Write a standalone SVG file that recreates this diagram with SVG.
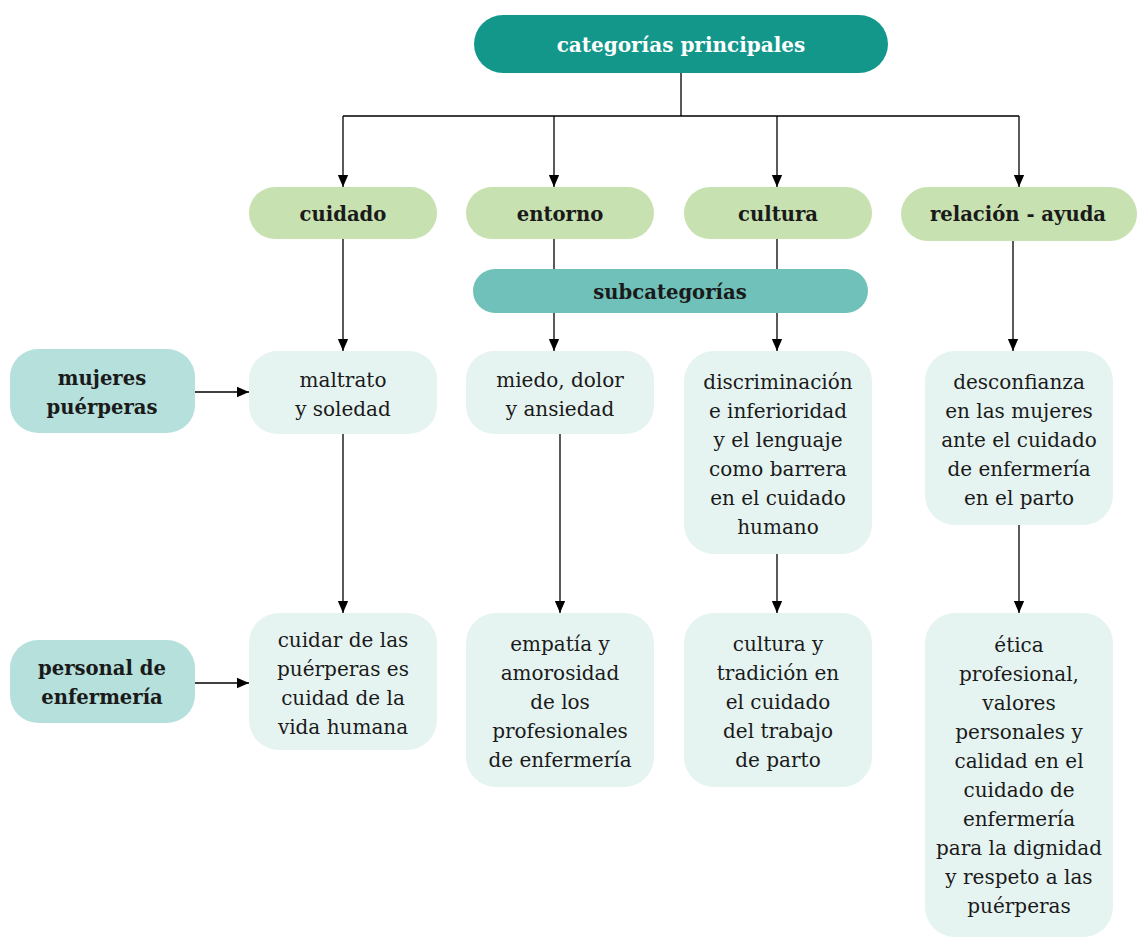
<svg xmlns="http://www.w3.org/2000/svg" width="1137" height="945" viewBox="0 0 1137 945">
<defs>
<marker id="ah" markerUnits="userSpaceOnUse" markerWidth="12" markerHeight="14" refX="14" refY="6" viewBox="0 0 14 12" orient="auto">
<path d="M0,0 L14,6 L0,12 z" fill="#000"/>
</marker>
<style>
.c{stroke:#000;stroke-width:1.3;fill:none}
.a{marker-end:url(#ah)}
text{font-family:"DejaVu Serif",serif;text-anchor:middle;fill:#1a1a1a}
.b{font-weight:bold;font-size:19.6px}
.t{font-size:20px}
.top{fill:#12978a}
.cat{fill:#c7e1b0}
.sub{fill:#6fc1b9}
.side{fill:#b5e0dc}
.leaf{fill:#e6f4f1}
</style>
</defs>
<rect width="1137" height="945" fill="#fff"/>
<g id="connectors">
<path class="c" d="M681,73 V116 M343,116 H1019"/>
<path class="c a" d="M343,116 V187"/>
<path class="c a" d="M554,116 V187"/>
<path class="c a" d="M777,116 V187"/>
<path class="c a" d="M1019,116 V187"/>
<path class="c a" d="M343,239 V351"/>
<path class="c a" d="M554,239 V351"/>
<path class="c a" d="M777,239 V351"/>
<path class="c a" d="M1013,241 V351"/>
<path class="c a" d="M343,434 V613"/>
<path class="c a" d="M560,434 V613"/>
<path class="c a" d="M777,554 V613"/>
<path class="c a" d="M1019,525 V613"/>
<path class="c a" d="M195,392 H249"/>
<path class="c a" d="M195,683 H249"/>
</g>
<g id="n-top"><rect class="top" x="474" y="15" width="414" height="58" rx="29"/><text class="b" x="681" y="52" style="fill:#fff;font-size:20px">categorías principales</text></g>
<g id="n-cuidado"><rect class="cat" x="249" y="187" width="188" height="52" rx="26"/><text class="b" x="343" y="221">cuidado</text></g>
<g id="n-entorno"><rect class="cat" x="466" y="187" width="188" height="52" rx="26"/><text class="b" x="560" y="221">entorno</text></g>
<g id="n-cultura"><rect class="cat" x="684" y="187" width="188" height="52" rx="26"/><text class="b" x="778" y="221">cultura</text></g>
<g id="n-relacion"><rect class="cat" x="901" y="187" width="236" height="54" rx="27"/><text class="b" x="1018" y="221">relación - ayuda</text></g>
<g id="n-sub"><rect class="sub" x="473" y="269" width="395" height="44" rx="22"/><text class="b" x="670" y="299">subcategorías</text></g>
<g id="n-mujeres"><rect class="side" x="10" y="349" width="185" height="84" rx="28"/><text class="b" x="102" y="385">mujeres</text><text class="b" x="102" y="414">puérperas</text></g>
<g id="n-personal"><rect class="side" x="10" y="640" width="185" height="83" rx="28"/><text class="b" x="102" y="675">personal de</text><text class="b" x="102" y="704">enfermería</text></g>
<g id="n-maltrato"><rect class="leaf" x="249" y="351" width="188" height="83" rx="28"/><text class="t" x="343" y="387">maltrato</text><text class="t" x="343" y="416">y soledad</text></g>
<g id="n-miedo"><rect class="leaf" x="466" y="351" width="188" height="83" rx="28"/><text class="t" x="560" y="387">miedo, dolor</text><text class="t" x="560" y="416">y ansiedad</text></g>
<g id="n-discrim"><rect class="leaf" x="684" y="351" width="188" height="203" rx="30"/>
<text class="t" x="778" y="389">discriminación</text><text class="t" x="778" y="418">e inferioridad</text><text class="t" x="778" y="447">y el lenguaje</text><text class="t" x="778" y="476">como barrera</text><text class="t" x="778" y="505">en el cuidado</text><text class="t" x="778" y="534">humano</text></g>
<g id="n-desconf"><rect class="leaf" x="925" y="351" width="188" height="174" rx="30"/>
<text class="t" x="1019" y="389">desconfianza</text><text class="t" x="1019" y="418">en las mujeres</text><text class="t" x="1019" y="447">ante el cuidado</text><text class="t" x="1019" y="476">de enfermería</text><text class="t" x="1019" y="505">en el parto</text></g>
<g id="n-cuidar"><rect class="leaf" x="249" y="613" width="188" height="137" rx="30"/>
<text class="t" x="343" y="647">cuidar de las</text><text class="t" x="343" y="676">puérperas es</text><text class="t" x="343" y="705">cuidad de la</text><text class="t" x="343" y="734">vida humana</text></g>
<g id="n-empatia"><rect class="leaf" x="466" y="613" width="188" height="174" rx="30"/>
<text class="t" x="560" y="651">empatía y</text><text class="t" x="560" y="680">amorosidad</text><text class="t" x="560" y="709">de los</text><text class="t" x="560" y="738">profesionales</text><text class="t" x="560" y="767">de enfermería</text></g>
<g id="n-tradicion"><rect class="leaf" x="684" y="613" width="188" height="174" rx="30"/>
<text class="t" x="778" y="651">cultura y</text><text class="t" x="778" y="680">tradición en</text><text class="t" x="778" y="709">el cuidado</text><text class="t" x="778" y="738">del trabajo</text><text class="t" x="778" y="767">de parto</text></g>
<g id="n-etica"><rect class="leaf" x="925" y="613" width="188" height="324" rx="30"/>
<text class="t" x="1019" y="652">ética</text><text class="t" x="1019" y="681">profesional,</text><text class="t" x="1019" y="710">valores</text><text class="t" x="1019" y="739">personales y</text><text class="t" x="1019" y="768">calidad en el</text><text class="t" x="1019" y="797">cuidado de</text><text class="t" x="1019" y="826">enfermería</text><text class="t" x="1019" y="855">para la dignidad</text><text class="t" x="1019" y="884">y respeto a las</text><text class="t" x="1019" y="913">puérperas</text></g>
</svg>
